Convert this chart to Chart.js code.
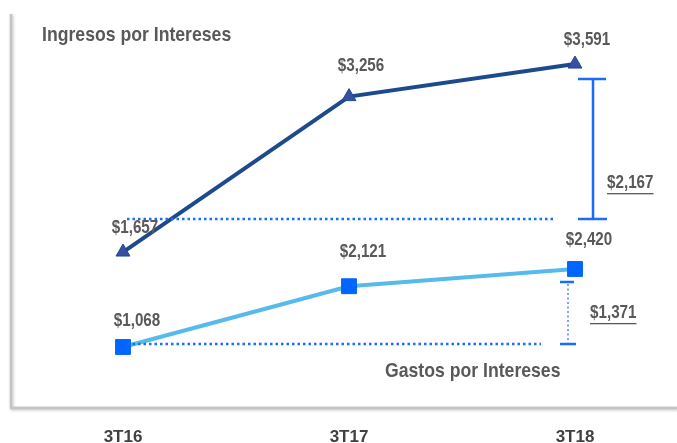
<!DOCTYPE html>
<html>
<head>
<meta charset="utf-8">
<script src="https://cdn.jsdelivr.net/npm/chart.js@4.4.0/dist/chart.umd.min.js"></script>
<style>
  html, body { margin: 0; padding: 0; background: #fff; }
  #wrap { width: 677px; height: 443px; }
</style>
</head>
<body>
<div id="wrap"><canvas id="InteresesChart"></canvas></div>
<script>
const periodos = ['3T16', '3T17', '3T18'];
const ingresos = [1657, 3256, 3591];
const gastos = [1068, 2121, 2420];
const crecIngresos = '$2,167';
const crecGastos = '$1,371';

const FONT = '"Liberation Sans", Arial, sans-serif';

function fmt(v) {
  return '$' + v.toLocaleString('en-US');
}

// texto angosto (la fuente original es condensada)
function texto(c, txt, x, y, align, sx) {
  const w = c.measureText(txt).width * sx;
  let x0 = x;
  if (align === 'center') x0 = x - w / 2;
  c.save();
  c.translate(x0, y);
  c.scale(sx, 1);
  c.textAlign = 'left';
  c.fillText(txt, 0, 0);
  c.restore();
  return w;
}

// marco gris, etiquetas de valor, titulos y llaves
const decoracion = {
  id: 'decoracion',
  beforeDraw(chart) {
    const c = chart.ctx;
    c.save();
    c.strokeStyle = '#c4c4c4';
    c.lineWidth = 2.5;
    c.shadowColor = 'rgba(0,0,0,0.25)';
    c.shadowBlur = 3;
    c.shadowOffsetX = 1;
    c.shadowOffsetY = 1;
    c.beginPath();
    c.moveTo(11, 14);
    c.lineTo(11, 408);
    c.lineTo(677, 408);
    c.stroke();
    c.restore();
  },
  afterDatasetsDraw(chart) {
    const c = chart.ctx;
    const ing = chart.getDatasetMeta(0).data;
    const gas = chart.getDatasetMeta(1).data;
    c.save();

    // lineas punteadas
    c.strokeStyle = '#1a6cff';
    c.lineWidth = 2.5;
    c.setLineDash([2.5, 3]);
    c.beginPath();
    const yRef1 = ing[0].y - 33;
    c.moveTo(ing[0].x + 4, yRef1);
    c.lineTo(ing[2].x - 19, yRef1);
    const yRef2 = gas[0].y - 3;
    c.moveTo(gas[0].x + 4, yRef2);
    c.lineTo(gas[2].x - 34, yRef2);
    c.stroke();

    // llave ingresos
    c.setLineDash([]);
    c.lineWidth = 2.5;
    const bx = ing[2].x + 18;
    const top1 = ing[2].y + 15;
    c.beginPath();
    c.moveTo(bx - 15, top1); c.lineTo(bx + 13, top1);
    c.moveTo(bx, top1); c.lineTo(bx, yRef1);
    c.moveTo(bx - 15, yRef1); c.lineTo(bx + 14, yRef1);
    c.stroke();

    // llave gastos
    const gx = gas[2].x - 7;
    const top2 = gas[2].y + 13;
    c.beginPath();
    c.moveTo(gx - 8, top2); c.lineTo(gx + 6, top2);
    c.moveTo(gx - 8, yRef2); c.lineTo(gx + 8, yRef2);
    c.stroke();
    c.lineWidth = 1.2;
    c.setLineDash([2, 2.5]);
    c.beginPath();
    c.moveTo(gx, top2 + 2); c.lineTo(gx, yRef2 - 2);
    c.stroke();
    c.setLineDash([]);

    // etiquetas de valor
    c.fillStyle = '#595959';
    c.font = 'bold 19px ' + FONT;
    c.textBaseline = 'middle';
    const offIng = [24, 31, 24];
    ing.forEach((p, i) => texto(c, fmt(ingresos[i]), p.x + 12, p.y - offIng[i], 'center', 0.8));
    const offGas = [26, 34, 29];
    gas.forEach((p, i) => texto(c, fmt(gastos[i]), p.x + 14, p.y - offGas[i], 'center', 0.8));

    // crecimientos subrayados
    function subrayado(txt, x, y) {
      const w = texto(c, txt, x, y, 'left', 0.8);
      c.fillRect(x, y + 10, w, 1.3);
    }
    subrayado(crecIngresos, bx + 14, (top1 + yRef1) / 2 + 34);
    subrayado(crecGastos, gx + 22, (top2 + yRef2) / 2);

    // titulos de series
    c.font = 'bold 21px ' + FONT;
    texto(c, 'Ingresos por Intereses', 42, 35, 'left', 0.84);
    texto(c, 'Gastos por Intereses', 385, 371, 'left', 0.84);
    c.restore();
  }
};

const ctx = document.getElementById('InteresesChart');

new Chart(ctx, {
  type: 'line',
  data: {
    labels: periodos,
    datasets: [{
      label: 'Ingresos por Intereses',
      data: ingresos,
      yAxisID: 'y',
      borderColor: '#1d4a8c',
      borderWidth: 4,
      pointStyle: 'triangle',
      pointRadius: 8,
      pointBackgroundColor: '#3b4fa0',
      pointBorderColor: '#1d4a8c',
      pointBorderWidth: 1,
      tension: 0
    }, {
      label: 'Gastos por Intereses',
      data: gastos,
      yAxisID: 'y2',
      borderColor: '#56bbea',
      borderWidth: 4,
      pointStyle: 'rect',
      pointRadius: 10.5,
      pointBackgroundColor: '#0066ff',
      pointBorderColor: '#0066ff',
      pointBorderWidth: 1,
      tension: 0
    }]
  },
  options: {
    responsive: true,
    maintainAspectRatio: false,
    animation: false,
    layout: { autoPadding: false, padding: { left: 123, right: 102, top: 0, bottom: 0 } },
    plugins: {
      legend: { display: false },
      tooltip: { enabled: false }
    },
    scales: {
      x: {
        offset: false,
        grid: { display: false, drawTicks: false },
        border: { display: false },
        ticks: {
          padding: 24,
          color: '#404040',
          font: { family: FONT, size: 17, weight: 'bold' }
        },
        afterFit: s => { s.height = 40; }
      },
      y: { display: false, min: 104, max: 4250 },
      y2: { display: false, min: 97, max: 7082 }
    }
  },
  plugins: [decoracion]
});
</script>
</body>
</html>
